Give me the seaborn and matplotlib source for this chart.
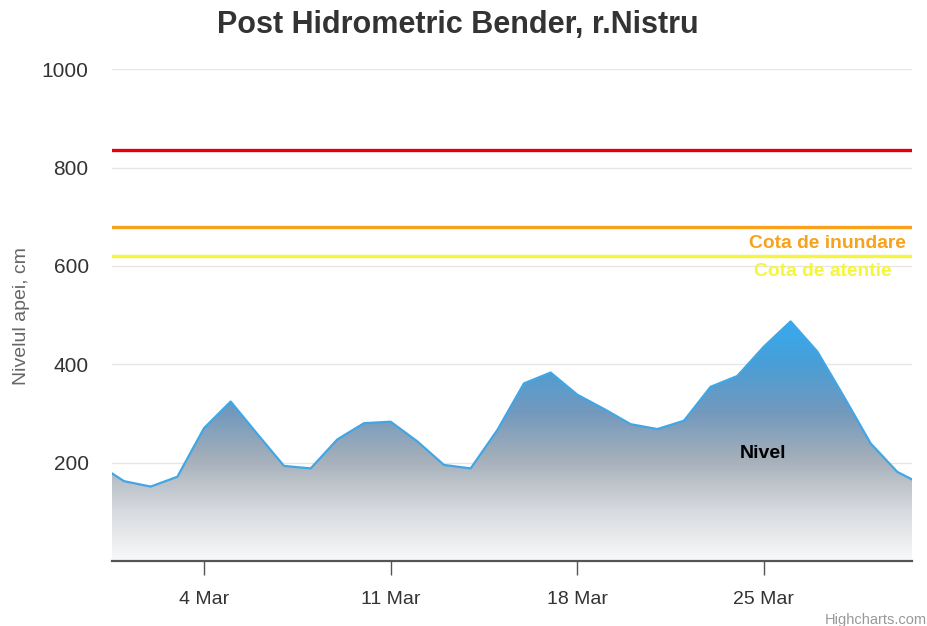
import numpy as np
import pandas as pd
import matplotlib
matplotlib.use("Agg")
import matplotlib.pyplot as plt
import matplotlib.dates as mdates
from matplotlib.colors import LinearSegmentedColormap
import seaborn as sns

# ---- data ----
dates = pd.date_range("2024-02-29", "2024-03-31", freq="D")
nivel = [197, 162, 151, 171, 270, 324, 258, 193, 188, 247, 280, 283, 243, 195, 188,
         266, 361, 383, 338, 309, 278, 268, 285, 354, 376, 436, 487, 426, 334, 239,
         181, 153]
tick_dates = pd.to_datetime(["2024-03-04", "2024-03-11", "2024-03-18", "2024-03-25"])
tick_labels = ["4 Mar", "11 Mar", "18 Mar", "25 Mar"]
y_ticks = [200, 400, 600, 800, 1000]
plot_lines = [835, 680, 620]
plot_line_colors = ["#e5000f", "#f7a11c", "#f5f53a"]
plot_line_labels = [None, "Cota de inundare", "Cota de atentie"]
title = "Post Hidrometric Bender, r.Nistru"
ylabel = "Nivelul apei, cm"
series_name = "Nivel"

df = pd.DataFrame({"date": dates, "nivel": nivel})

sns.set_theme(style="white")
plt.rcParams["font.family"] = ["Liberation Sans", "DejaVu Sans"]

fig = plt.figure(figsize=(9.28, 6.26), dpi=100)
W, H = 928, 626
left, right, top, bottom = 112.3, 911.7, 69.3, 560.8
ax = fig.add_axes([left / W, (H - bottom) / H, (right - left) / W, (bottom - top) / H])

xmin = pd.Timestamp("2024-02-29 13:26")
xmax = pd.Timestamp("2024-03-30 13:00")

# grid
ax.set_yticks(y_ticks)
ax.yaxis.grid(True, color="#e6e6e6", linewidth=1)
ax.xaxis.grid(False)
ax.set_axisbelow(True)

# gradient area
xnum = mdates.date2num(df["date"])
poly = ax.fill_between(df["date"], 0, df["nivel"], facecolor="none", edgecolor="none")
cmap = LinearSegmentedColormap.from_list(
    "grad",
    [(0.0, (0.975, 0.975, 0.975)),
     (0.2, (0.85, 0.86, 0.875)),
     (0.42, (0.65, 0.69, 0.73)),
     (0.62, (0.45, 0.60, 0.74)),
     (0.82, (0.29, 0.62, 0.84)),
     (1.0, (0.21, 0.67, 0.94))])
ymaxv = max(nivel)
grad = np.linspace(0, 1, 256).reshape(-1, 1)
im = ax.imshow(grad, cmap=cmap, aspect="auto", origin="lower",
               extent=[xnum[0], xnum[-1], 0, ymaxv], zorder=1.5)
path = poly.get_paths()[0]
im.set_clip_path(path, transform=ax.transData)

sns.lineplot(data=df, x="date", y="nivel", color="#42a6e4", linewidth=1.6, ax=ax, zorder=3)

ax.set_xlim(mdates.date2num(xmin), mdates.date2num(xmax))
ax.set_ylim(0, 1000)

# plot lines
for val, col in zip(plot_lines, plot_line_colors):
    ax.axhline(val, color=col, linewidth=2.4, zorder=4)

fig.text(906 / W, 1 - 243 / H, plot_line_labels[1], color=plot_line_colors[1],
         fontsize=13.9, fontweight="bold", ha="right", va="center")
fig.text(892 / W, 1 - 272 / H, plot_line_labels[2], color=plot_line_colors[2],
         fontsize=13.9, fontweight="bold", ha="right", va="center")

fig.text(740 / W, 1 - 454 / H, series_name, fontsize=14, fontweight="bold",
         color="black", ha="left", va="center")

# axes styling
for s in ["top", "right", "left"]:
    ax.spines[s].set_visible(False)
ax.spines["bottom"].set_color("#555555")
ax.spines["bottom"].set_linewidth(1.6)

ax.set_xticks(mdates.date2num(tick_dates))
ax.set_xticklabels(tick_labels)
ax.tick_params(axis="x", direction="out", length=10, width=1, color="#555555",
               labelsize=14, labelcolor="#333333", pad=12, bottom=True)
ax.tick_params(axis="y", length=0, labelsize=15, labelcolor="#333333", pad=17, left=False)
ax.set_xlabel("")
ax.set_ylabel("")
fig.text(22 / W, 1 - 316 / H, ylabel, fontsize=14, color="#666666",
         rotation=90, ha="center", va="center")

fig.text(458 / W, 1 - 25 / H, title, fontsize=22, fontweight="bold", color="#333333",
         ha="center", va="center")
fig.text(927 / W, 1 - 620 / H, "Highcharts.com", fontsize=10.5, color="#999999",
         ha="right", va="center")

fig.savefig("out.png", dpi=100)
